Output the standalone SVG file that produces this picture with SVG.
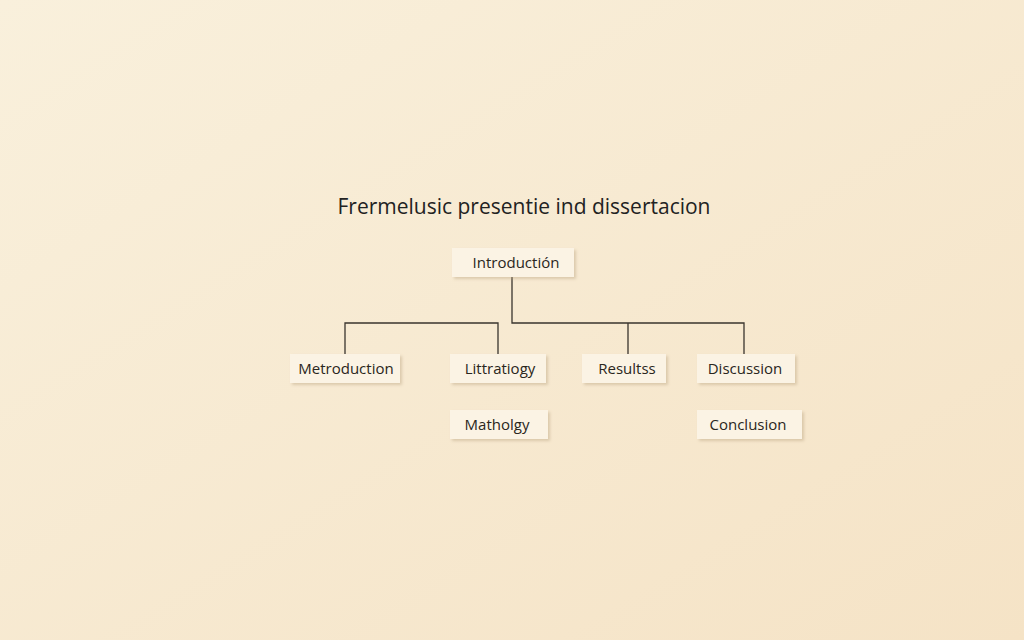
<svg xmlns="http://www.w3.org/2000/svg" width="1024" height="640" viewBox="0 0 1024 640">
<defs>
<linearGradient id="bg" x1="0" y1="0" x2="1" y2="1"><stop offset="0" stop-color="#f9f0dc"/><stop offset="1" stop-color="#f5e3c6"/></linearGradient>
<filter id="sh" x="-20%" y="-30%" width="150%" height="180%"><feDropShadow dx="2" dy="2" stdDeviation="1.5" flood-color="#b8a27e" flood-opacity="0.45"/></filter>
</defs>
<style>
.b{fill:#fbf3e4;filter:url(#sh)}
.t{font-family:"Open Sans","DejaVu Sans",sans-serif;font-size:15px;fill:#2a2620;text-anchor:middle}
.c{fill:none;stroke:#3a352e;stroke-width:1.3}
</style>
<rect width="1024" height="640" fill="url(#bg)"/>
<text x="524" y="214" font-family="'Open Sans','DejaVu Sans',sans-serif" font-size="21" fill="#222" text-anchor="middle">Frermelusic presentie ind dissertacion</text>
<g id="connectors">
<path class="c" d="M512 277V323H744V354M628 323V354"/>
<path class="c" d="M345 354V323H498V354"/>
</g>
<g id="n-intro"><rect class="b" x="452" y="248" width="122" height="29"/><text class="t" x="516" y="268">Introductión</text></g>
<g id="n-metro"><rect class="b" x="290" y="354" width="110" height="29"/><text class="t" x="346" y="374">Metroduction</text></g>
<g id="n-litt"><rect class="b" x="450" y="354" width="96" height="29"/><text class="t" x="500" y="374">Littratiogy</text></g>
<g id="n-res"><rect class="b" x="582" y="354" width="84" height="29"/><text class="t" x="627" y="374">Resultss</text></g>
<g id="n-disc"><rect class="b" x="697" y="354" width="98" height="29"/><text class="t" x="745" y="374">Discussion</text></g>
<g id="n-math"><rect class="b" x="450" y="410" width="98" height="29"/><text class="t" x="497" y="430">Matholgy</text></g>
<g id="n-conc"><rect class="b" x="697" y="410" width="105" height="29"/><text class="t" x="748" y="430">Conclusion</text></g>
</svg>
